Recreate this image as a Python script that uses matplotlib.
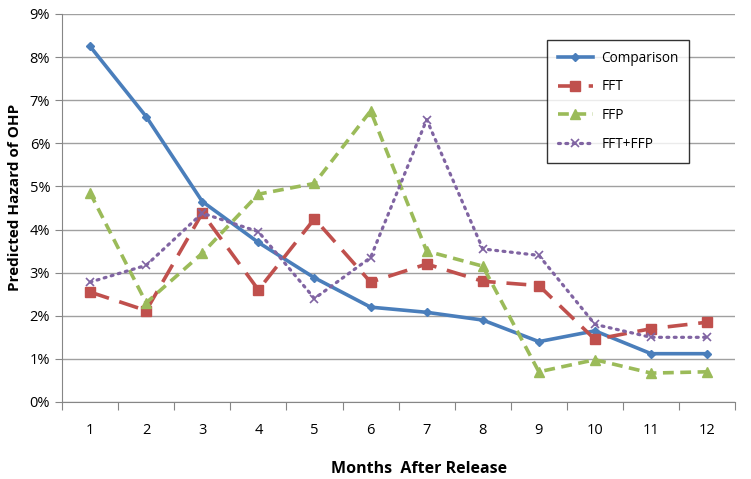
import numpy as np
import matplotlib.pyplot as plt

months = [1, 2, 3, 4, 5, 6, 7, 8, 9, 10, 11, 12]
comparison = [8.25, 6.62, 4.65, 3.70, 2.88, 2.20, 2.08, 1.90, 1.40, 1.65, 1.12, 1.12]
fft = [2.55, 2.12, 4.38, 2.60, 4.25, 2.78, 3.20, 2.80, 2.70, 1.45, 1.70, 1.85]
ffp = [4.85, 2.30, 3.45, 4.82, 5.07, 6.75, 3.50, 3.15, 0.70, 0.98, 0.67, 0.70]
fft_ffp = [2.78, 3.17, 4.38, 3.95, 2.40, 3.35, 6.55, 3.55, 3.40, 1.80, 1.50, 1.50]
y_ticks = list(range(0, 10))

plt.rcParams['font.family'] = ['Open Sans', 'DejaVu Sans']

fig = plt.figure(figsize=(7.51, 4.79), dpi=100)
ax = fig.add_axes([0.0826, 0.1608, 0.8964, 0.81])

ax.plot(months, comparison, color='#4A7EBB', lw=2.6, marker='D', ms=4, label='Comparison')
ax.plot(months, fft, color='#C0504D', lw=2.6, dashes=(5.5, 3), marker='s', ms=6.5, label='FFT')
ax.plot(months, ffp, color='#9BBB59', lw=2.6, dashes=(3, 1.8), marker='^', ms=6.5, label='FFP')
ax.plot(months, fft_ffp, color='#8064A2', lw=2.3, dashes=(0.6, 1.7), dash_capstyle='round',
        marker='x', ms=6, mew=1.2, label='FFT+FFP')

ax.set_xlim(0.5, 12.5)
ax.set_ylim(0, 9)
ax.set_yticks(y_ticks)
ax.set_yticklabels([f'{v}%' for v in y_ticks], fontsize=10.5)
ax.set_xticks(np.arange(0.5, 13, 1))
ax.set_xticklabels([])
ax.set_xticks(months, minor=True)
ax.set_xticklabels([str(m) for m in months], minor=True, fontsize=10.5)
ax.tick_params(axis='x', which='minor', length=0, pad=15)
ax.tick_params(axis='x', which='major', length=6, color='#868686')
ax.tick_params(axis='y', length=5, color='#868686')

ax.grid(axis='y', color='#A0A0A0', lw=1)
ax.set_axisbelow(True)
for s in ['top', 'right']:
    ax.spines[s].set_visible(False)
ax.spines['left'].set_color('#868686')
ax.spines['bottom'].set_color('#868686')

ax.set_xlabel('Months  After Release', fontsize=11.5, fontweight='bold')
ax.set_ylabel('Predicted Hazard of OHP', fontsize=11, fontweight='bold')
ax.xaxis.set_label_coords(0.53, -0.152)
ax.yaxis.set_label_coords(-0.06, 0.526)

leg = ax.legend(loc='upper left', bbox_to_anchor=(0.72, 0.933), borderaxespad=0,
                fontsize=9.8, frameon=True, fancybox=False, edgecolor='black',
                handlelength=2.6, handletextpad=0.6, labelspacing=1.0, borderpad=0.8)
leg.get_frame().set_linewidth(1)

fig.savefig('out.png', dpi=100)
